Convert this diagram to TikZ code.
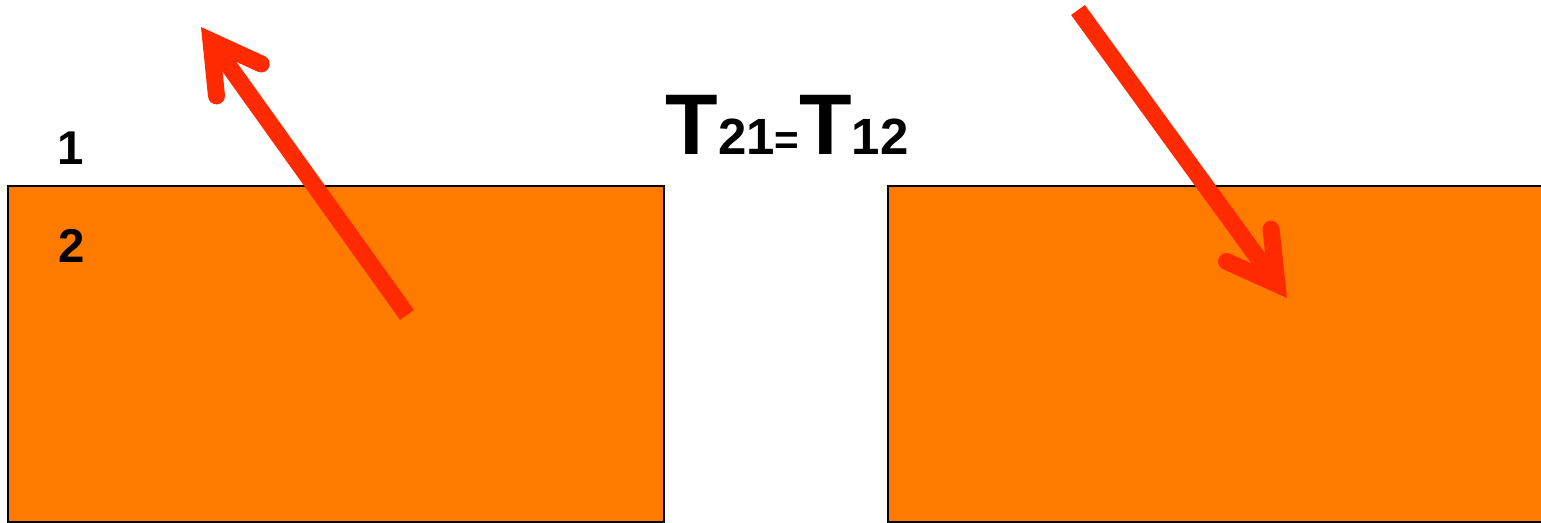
\documentclass[tikz,border=0pt]{standalone}
\usepackage{fontspec}
\setmainfont{Liberation Sans}
\definecolor{slabOrange}{RGB}{255,123,0}
\definecolor{rayRed}{RGB}{255,42,0}
\usetikzlibrary{arrows.meta,positioning}

\begin{document}
\begin{tikzpicture}[x=0.02cm, y=-0.02cm,
  slab/.style={draw, line width=1pt, fill=slabOrange, minimum width=13.12cm,
               minimum height=6.72cm, inner sep=0pt},
  ray/.style={rayRed, line width=0.34cm,
              -{Straight Barb[length=0.96cm, width=1.1cm, line cap=round, line join=miter]}},
  lbl/.style={font=\bfseries\fontsize{27}{28}\selectfont, anchor=base, inner sep=0pt}
]
  \useasboundingbox (0,0) rectangle (1541,523);

  \node[slab] (upper) at (336,354) {};
  \node[slab] (lower) at (1216,354) {};

  \coordinate (reflTail) at (407,315);
  \coordinate (reflTip)  at (201,27);
  \coordinate (incTail)  at (1078,10);
  \coordinate (incTip)   at (1287,298);
  \draw[ray] (reflTail) -- (reflTip);
  \draw[ray] (incTail) -- (incTip);

  \node[lbl] (one) at (71,165) {1};
  \node[lbl] (two) at (72,263) {2};
  \node[anchor=base, inner sep=0pt, font=\bfseries] (law) at (787,155)
    {{\fontsize{49}{50}\selectfont T}{\fontsize{29}{30}\selectfont 21}{\fontsize{24}{25}\selectfont =}{\fontsize{49}{50}\selectfont T}{\fontsize{29}{30}\selectfont 12}};
\end{tikzpicture}
\end{document}
